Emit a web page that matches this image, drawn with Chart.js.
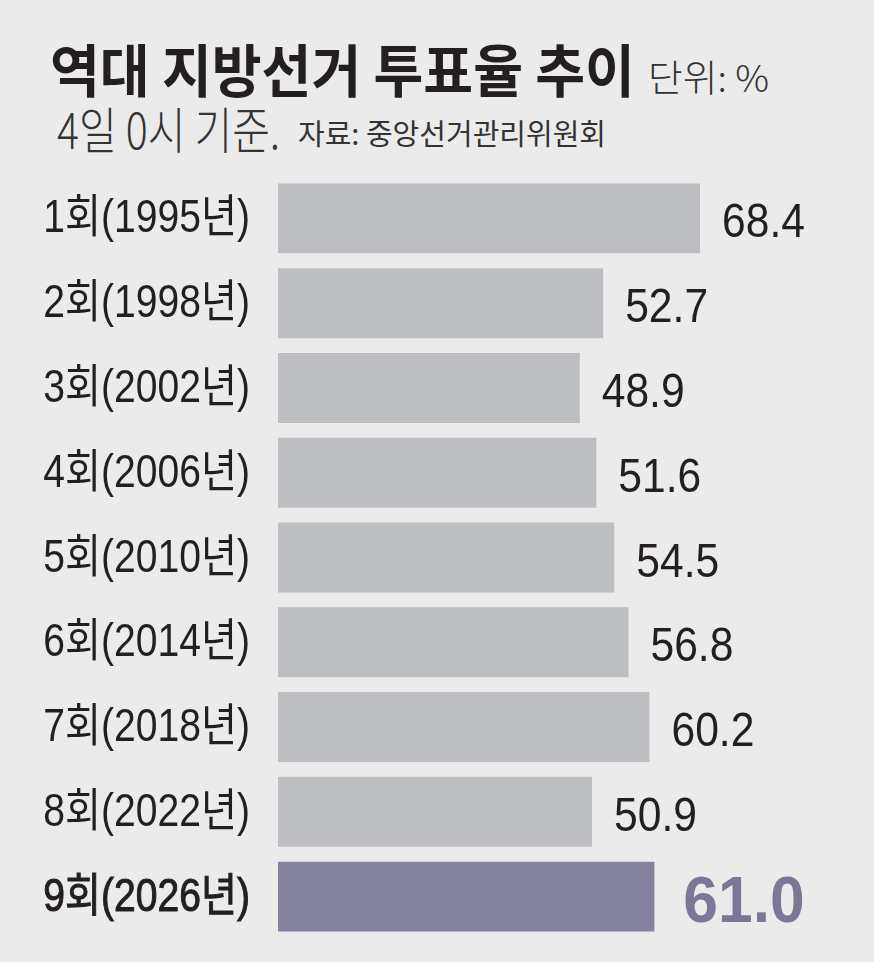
<!DOCTYPE html>
<html>
<head>
<meta charset="utf-8">
<script src="https://cdn.jsdelivr.net/npm/chart.js@4"></script>
<style>
  body { margin: 0; background: #ebebeb; }
  #wrap { position: relative; width: 874px; height: 962px; overflow: hidden; }
  #wrap canvas { position: absolute; left: 0; top: 0; }
  .txt { position: absolute; white-space: nowrap; color: #231f20; font-family: "Noto Sans CJK KR", sans-serif; line-height: 1; transform-origin: left center; }
</style>
</head>
<body>
<div id="wrap">
  <div class="txt" style="left:50px; top:39px; font-size:57px; font-weight:700; transform:scaleX(0.95)">역대 지방선거 투표율 추이</div>
  <div class="txt" style="left:648px; top:58px; font-size:37px; font-weight:300; color:#333; transform:scaleX(1.02)">단위: %</div>
  <div class="txt" style="left:57px; top:102px; font-size:50px; font-weight:300; color:#333; transform:scaleX(0.82)">4일 0시 기준.</div>
  <div class="txt" style="left:298px; top:118px; font-size:29px; color:#333">자료: 중앙선거관리위원회</div>
  <canvas id="c" width="874" height="962"></canvas>
</div>
<script>
const rounds = ['1회(1995년)', '2회(1998년)', '3회(2002년)', '4회(2006년)', '5회(2010년)',
  '6회(2014년)', '7회(2018년)', '8회(2022년)', '9회(2026년)']
const turnout = [68.4, 52.7, 48.9, 51.6, 54.5, 56.8, 60.2, 50.9, 61.0]

const last = turnout.length - 1
const grey = '#bdbec1'
const purple = '#84829f'

// condensed text: squeeze horizontally around the anchor point
function squeezed (ctx, text, x, y, sx, align, stroke) {
  ctx.save()
  ctx.translate(x, y)
  ctx.scale(sx, 1)
  ctx.textAlign = align
  ctx.textBaseline = 'alphabetic'
  ctx.fillText(text, 0, 0)
  if (stroke) {
    ctx.strokeStyle = ctx.fillStyle
    ctx.lineWidth = stroke
    ctx.strokeText(text, 0, 0)
  }
  ctx.restore()
}

const labelsPlugin = {
  id: 'labelsPlugin',
  afterDatasetsDraw (chart) {
    const { ctx } = chart
    const yScale = chart.scales.y
    const meta = chart.getDatasetMeta(0)
    ctx.save()
    rounds.forEach((lab, i) => {
      const y = yScale.getPixelForTick(i)
      ctx.fillStyle = '#231f20'
      ctx.font = '46px "Liberation Sans", "Noto Sans CJK KR", sans-serif'
      squeezed(ctx, lab, 250, y + 14, 0.85, 'right', i === last ? 1 : 0)
    })
    meta.data.forEach((bar, i) => {
      const txt = turnout[i].toFixed(1)
      if (i === last) {
        ctx.font = 'bold 65px "Liberation Sans", Arial, sans-serif'
        ctx.fillStyle = '#7a7896'
        squeezed(ctx, txt, bar.x + 29, bar.y + 25, 0.96, 'left')
      } else {
        ctx.font = '49px "Liberation Sans", Arial, sans-serif'
        ctx.fillStyle = '#231f20'
        squeezed(ctx, txt, bar.x + 22, bar.y + 19, 0.87, 'left')
      }
    })
    ctx.restore()
  }
}

new Chart(document.getElementById('c'), {
  type: 'bar',
  data: {
    labels: rounds,
    datasets: [{
      data: turnout,
      backgroundColor: turnout.map((v, i) => i === last ? purple : grey),
      borderWidth: 0,
      barPercentage: 0.825,
      categoryPercentage: 1
    }]
  },
  options: {
    indexAxis: 'y',
    responsive: false,
    animation: false,
    layout: { padding: { top: 176, bottom: 23, left: 0, right: 0 } },
    plugins: { legend: { display: false }, tooltip: { enabled: false } },
    scales: {
      x: {
        display: false,
        min: 0,
        max: 96.6
      },
      y: {
        afterFit (scale) {
          scale.width = 278
          scale.paddingTop = 0
          scale.paddingBottom = 0
        },
        grid: { display: false, drawTicks: false },
        border: { display: false },
        ticks: { display: false }
      }
    }
  },
  plugins: [labelsPlugin]
})
</script>
</body>
</html>
